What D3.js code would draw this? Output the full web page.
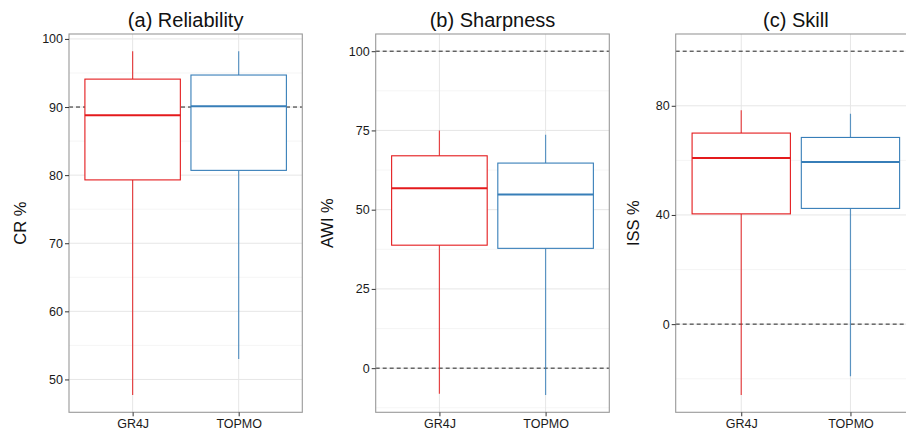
<!DOCTYPE html>
<html>
<head>
<meta charset="utf-8">
<script src="https://cdn.jsdelivr.net/npm/d3@7"></script>
<style>
  html, body { margin: 0; padding: 0; background: #fff; overflow: hidden; }
  svg { display: block; font-family: "Liberation Sans", Arial, Helvetica, sans-serif; }
</style>
</head>
<body>
<svg id="chart" width="906" height="431"></svg>
<script>
// ---- Data ----
const categories = ["GR4J", "TOPMO"];
const panelTitles = ["(a) Reliability", "(b) Sharpness", "(c) Skill"];
const axisTitles = ["CR %", "AWI %", "ISS %"];
const seriesColors = ["#e41a1c", "#377eb8"];

// box stats per category: [whiskerLow, q1, median, q3, whiskerHigh]
const reliabilityStats = [
  [47.7, 79.3, 88.8, 94.1, 98.2],
  [53.0, 80.7, 90.1, 94.7, 98.2]
];
const sharpnessStats = [
  [-8.1, 38.8, 56.8, 67.0, 75.0],
  [-8.5, 37.8, 54.8, 64.7, 73.6]
];
const skillStats = [
  [-26.0, 40.4, 60.9, 70.0, 78.4],
  [-19.1, 42.4, 59.4, 68.4, 77.1]
];

const reliabilityRefLines = [90];
const sharpnessRefLines = [0, 100];
const skillRefLines = [0, 100];

const reliabilityTicks = [50, 60, 70, 80, 90, 100];
const sharpnessTicks = [0, 25, 50, 75, 100];
const skillTicks = [0, 40, 80];

const reliabilityMinor = [45, 55, 65, 75, 85, 95];
const sharpnessMinor = [-12.5, 12.5, 37.5, 62.5, 87.5];
const skillMinor = [-20, 20, 60, 100];

// ---- Layout ----
const plotTop = 34, plotBottom = 412.3;
const panelX = [[69, 302.3], [375.7, 609.3], [675.7, 916]];
const axisTitleX = [20, 326.7, 633];

const panels = [
  { stats: reliabilityStats, refs: reliabilityRefLines, ticks: reliabilityTicks, minor: reliabilityMinor },
  { stats: sharpnessStats, refs: sharpnessRefLines, ticks: sharpnessTicks, minor: sharpnessMinor },
  { stats: skillStats, refs: skillRefLines, ticks: skillTicks, minor: skillMinor }
];

const svg = d3.select("#chart");

panels.forEach((p, i) => {
  const [x0, x1] = panelX[i];
  const allVals = p.stats.flat().concat(p.refs);
  const lo = d3.min(allVals), hi = d3.max(allVals);
  const pad = (hi - lo) * 0.05;
  const y = d3.scaleLinear().domain([lo - pad, hi + pad]).range([plotBottom, plotTop]);
  const x = d3.scalePoint().domain(categories).range([x0, x1]).padding(0.6);
  const boxW = x.step() * 0.9;

  const g = svg.append("g");

  const clipId = "clip" + i;
  svg.append("clipPath").attr("id", clipId)
    .append("rect").attr("x", x0).attr("y", plotTop).attr("width", x1 - x0).attr("height", plotBottom - plotTop);
  const plot = g.append("g").attr("clip-path", `url(#${clipId})`);

  // minor grid
  plot.selectAll(".minor").data(p.minor).join("line")
    .attr("x1", x0).attr("x2", x1)
    .attr("y1", d => y(d)).attr("y2", d => y(d))
    .attr("stroke", "#f3f3f3").attr("stroke-width", 0.8);
  // major grid
  plot.selectAll(".major").data(p.ticks).join("line")
    .attr("x1", x0).attr("x2", x1)
    .attr("y1", d => y(d)).attr("y2", d => y(d))
    .attr("stroke", "#e6e6e6").attr("stroke-width", 1);
  plot.selectAll(".vmajor").data(categories).join("line")
    .attr("x1", d => x(d)).attr("x2", d => x(d))
    .attr("y1", plotTop).attr("y2", plotBottom)
    .attr("stroke", "#e6e6e6").attr("stroke-width", 1);

  // reference lines
  plot.selectAll(".ref").data(p.refs).join("line")
    .attr("x1", x0).attr("x2", x1)
    .attr("y1", d => y(d)).attr("y2", d => y(d))
    .attr("stroke", "#222").attr("stroke-width", 1)
    .attr("stroke-dasharray", "4,3");

  // boxes
  p.stats.forEach((s, k) => {
    const cx = x(categories[k]);
    const col = seriesColors[k];
    const [wl, q1, med, q3, wh] = s;
    plot.append("line").attr("x1", cx).attr("x2", cx)
      .attr("y1", y(q3)).attr("y2", y(wh))
      .attr("stroke", col).attr("stroke-width", 1.2).attr("stroke-opacity", 0.8);
    plot.append("line").attr("x1", cx).attr("x2", cx)
      .attr("y1", y(q1)).attr("y2", y(wl))
      .attr("stroke", col).attr("stroke-width", 1.2).attr("stroke-opacity", 0.8);
    plot.append("rect")
      .attr("x", cx - boxW / 2).attr("width", boxW)
      .attr("y", y(q3)).attr("height", y(q1) - y(q3))
      .attr("fill", "#fff").attr("stroke", col).attr("stroke-width", 1.1);
    plot.append("line")
      .attr("x1", cx - boxW / 2).attr("x2", cx + boxW / 2)
      .attr("y1", y(med)).attr("y2", y(med))
      .attr("stroke", col).attr("stroke-width", 2);
  });

  // border
  g.append("rect").attr("x", x0).attr("y", plotTop)
    .attr("width", x1 - x0).attr("height", plotBottom - plotTop)
    .attr("fill", "none").attr("stroke", "#999").attr("stroke-width", 1.1);

  // y axis
  const yAxis = g.append("g").attr("transform", `translate(${x0},0)`)
    .call(d3.axisLeft(y).tickValues(p.ticks).tickSize(4).tickPadding(2).tickFormat(d3.format("d")));
  yAxis.select(".domain").remove();
  yAxis.selectAll(".tick line").attr("stroke", "#333");
  yAxis.selectAll(".tick text").attr("fill", "#1a1a1a").style("font-size", "12.5px")
    .style("font-family", "'Liberation Sans', Arial, sans-serif");

  // x axis
  const xAxis = g.append("g").attr("transform", `translate(0,${plotBottom})`)
    .call(d3.axisBottom(x).tickSize(4).tickPadding(3));
  xAxis.select(".domain").remove();
  xAxis.selectAll(".tick line").attr("stroke", "#333");
  xAxis.selectAll(".tick text").attr("fill", "#1a1a1a").style("font-size", "12.5px")
    .style("font-family", "'Liberation Sans', Arial, sans-serif");

  // panel title
  g.append("text").attr("x", (x0 + x1) / 2).attr("y", 27)
    .attr("text-anchor", "middle").style("font-size", "20px").attr("fill", "#111")
    .text(panelTitles[i]);

  // axis title
  g.append("text")
    .attr("transform", `translate(${axisTitleX[i] + 6},${(plotTop + plotBottom) / 2}) rotate(-90)`)
    .attr("text-anchor", "middle").style("font-size", "16.5px").attr("fill", "#111")
    .text(axisTitles[i]);
});
</script>
</body>
</html>
